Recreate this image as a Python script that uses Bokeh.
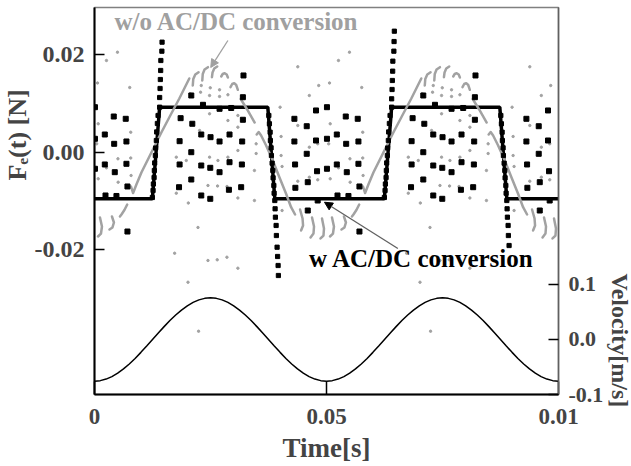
import numpy as np
from bokeh.plotting import figure
from bokeh.models import (Range1d, LinearAxis, FixedTicker, PrintfTickFormatter,
                          Label, Arrow, NormalHead, Title)
from bokeh.embed import file_html
from bokeh.resources import INLINE

FONT = "Liberation Serif"
GRAY = "#a2a2a2"

# ---------------- data ----------------
# velocity (right axis), sampled every 0.00125 s
vel_t = np.linspace(0, 0.1, 81)
vel_v = [-0.0757, -0.0748, -0.0720, -0.0674, -0.0612, -0.0535, -0.0445, -0.0344, -0.0234, -0.0118,
         0.0, 0.0118, 0.0234, 0.0344, 0.0445, 0.0535, 0.0612, 0.0674, 0.0720, 0.0748,
         0.0757, 0.0748, 0.0720, 0.0674, 0.0612, 0.0535, 0.0445, 0.0344, 0.0234, 0.0118,
         0.0, -0.0118, -0.0234, -0.0344, -0.0445, -0.0535, -0.0612, -0.0674, -0.0720, -0.0748,
         -0.0757, -0.0748, -0.0720, -0.0674, -0.0612, -0.0535, -0.0445, -0.0344, -0.0234, -0.0118,
         0.0, 0.0118, 0.0234, 0.0344, 0.0445, 0.0535, 0.0612, 0.0674, 0.0720, 0.0748,
         0.0757, 0.0748, 0.0720, 0.0674, 0.0612, 0.0535, 0.0445, 0.0344, 0.0234, 0.0118,
         0.0, -0.0118, -0.0234, -0.0344, -0.0445, -0.0535, -0.0612, -0.0674, -0.0720, -0.0748,
         -0.0757]

# w AC/DC conversion : rectified force (square wave)
step_t = [0, 0.01247, 0.01404, 0.03735, 0.03886, 0.06247, 0.06404, 0.08735, 0.08886, 0.1]
step_f = [-0.0095, -0.0095, 0.0093, 0.0093, -0.0095, -0.0095, 0.0093, 0.0093, -0.0095, -0.0095]

# transition samples (dotted columns)
spike_t = [0.01456, 0.01452, 0.01430, 0.01426, 0.01419, 0.01413, 0.01404, 0.01404, 0.01370, 0.01355,
           0.01340, 0.01333, 0.01318, 0.01312, 0.01297, 0.01290, 0.01284, 0.01269, 0.01262, 0.01247,
           0.03757, 0.03770, 0.03785, 0.03791, 0.03806, 0.03813, 0.03828, 0.03843, 0.03849, 0.03865,
           0.03871, 0.03886, 0.03892, 0.03899, 0.03914, 0.03920, 0.03935, 0.03946, 0.03957, 0.03963,
           0.06462, 0.06456, 0.06452, 0.06430, 0.06426, 0.06419, 0.06413, 0.06404, 0.06404, 0.06370,
           0.06355, 0.06340, 0.06333, 0.06318, 0.06312, 0.06297, 0.06290, 0.06284, 0.06269, 0.06262,
           0.06247,
           0.08757, 0.08770, 0.08785, 0.08791, 0.08806, 0.08813, 0.08828, 0.08843, 0.08849, 0.08865,
           0.08871, 0.08886, 0.08892, 0.08899, 0.08914, 0.08920, 0.08935]
spike_f = [0.02263, 0.02078, 0.01887, 0.01682, 0.01497, 0.01313, 0.01128, 0.00929, 0.00759, 0.00595,
           0.00421, 0.00246, 0.00092, -0.00062, -0.00215, -0.00369, -0.00513, -0.00646, -0.00779, -0.00923,
           0.00759, 0.00589, 0.00416, 0.00246, 0.00096, -0.00062, -0.00219, -0.00369, -0.00519, -0.00677,
           -0.00835, -0.00985, -0.01155, -0.01327, -0.01497, -0.01703, -0.01943, -0.02133, -0.02318, -0.02523,
           0.02488, 0.02276, 0.02078, 0.01873, 0.01668, 0.01477, 0.01292, 0.01101, 0.00929, 0.00759,
           0.00595, 0.00421, 0.00246, 0.00092, -0.00062, -0.00215, -0.00369, -0.00513, -0.00646, -0.00779,
           -0.00923,
           0.00759, 0.00589, 0.00416, 0.00246, 0.00096, -0.00062, -0.00219, -0.00369, -0.00519, -0.00677,
           -0.00835, -0.00985, -0.01155, -0.01327, -0.01497, -0.01703, -0.01908]

# scattered samples (black squares)
black_t = [0.0001, 0.0001, 0.0001, 0.00222, 0.00222, 0.00415, 0.00424, 0.00437, 0.00673, 0.00688,
           0.00688, 0.00710, 0.00710, 0.01822, 0.01834, 0.01834, 0.01856, 0.02086, 0.02108, 0.02086,
           0.02086, 0.02301, 0.02301, 0.02301, 0.02501, 0.02495, 0.02495, 0.02695, 0.02695, 0.02910,
           0.02910, 0.02897, 0.03183, 0.03176, 0.03161, 0.03198, 0.03198, 0.03211, 0.04308, 0.04308,
           0.04323, 0.04329, 0.04574, 0.04574, 0.04596, 0.04596, 0.04774, 0.04774, 0.04796,
           0.00237, 0.00473, 0.02338, 0.02695, 0.02946, 0.04810,
           0.0501, 0.0501, 0.0501, 0.05222, 0.05222, 0.05415, 0.05424, 0.05437, 0.05673, 0.05688,
           0.05688, 0.05710, 0.05710, 0.06822, 0.06834, 0.06834, 0.06856, 0.07086, 0.07108, 0.07086,
           0.07086, 0.07301, 0.07301, 0.07301, 0.07501, 0.07495, 0.07495, 0.07695, 0.07695, 0.07910,
           0.07910, 0.07897, 0.08183, 0.08176, 0.08161, 0.08198, 0.08198, 0.08211, 0.09308, 0.09308,
           0.09323, 0.09329, 0.09574, 0.09574, 0.09596, 0.09596, 0.09774, 0.09774, 0.09796,
           0.05237, 0.05473, 0.07338, 0.07695, 0.07946, 0.09810]
black_f = [0.00929, 0.00281, -0.00334, 0.00369, -0.00246, 0.00738, 0.00178, -0.00404, 0.00691, 0.00226,
           -0.00232, -0.00697, -0.01621, -0.00712, -0.00246, 0.00232, 0.00704, 0.01169, 0.00589, 0.00006,
           -0.00554, 0.00369, -0.00267, -0.00882, 0.00314, -0.00314, -0.00950, 0.00226, -0.00404, 0.00369,
           -0.00199, -0.00765, 0.00226, -0.00246, -0.00712, 0.00671, 0.01134, 0.01580, 0.00691, 0.00226,
           -0.00246, -0.00724, 0.00539, -0.00027, -0.00609, -0.01190, 0.00862, 0.00246, -0.00384,
           -0.00882, -0.00892, 0.00978, 0.00896, 0.00913, -0.00985,
           0.00929, 0.00281, -0.00334, 0.00369, -0.00246, 0.00738, 0.00178, -0.00404, 0.00691, 0.00226,
           -0.00232, -0.00697, -0.01621, -0.00712, -0.00246, 0.00232, 0.00704, 0.01169, 0.00589, 0.00006,
           -0.00554, 0.00369, -0.00267, -0.00882, 0.00314, -0.00314, -0.00950, 0.00226, -0.00404, 0.00369,
           -0.00199, -0.00765, 0.00226, -0.00246, -0.00712, 0.00671, 0.01134, 0.01580, 0.00691, 0.00226,
           -0.00246, -0.00724, 0.00539, -0.00027, -0.00609, -0.01190, 0.00862, 0.00246, -0.00384,
           -0.00882, -0.00892, 0.00978, 0.00896, 0.00913, -0.00985]

# w/o AC/DC conversion : scattered samples (gray dots)
gray_t = [0.00495, 0.00258, 0.00065, 0.00759, 0.00080, 0.00781, 0.00505, 0.00781, 0.00258, 0.00080,
          0.00510, 0.00789, 0.02065, 0.02286, 0.02480, 0.02695, 0.02875, 0.02301, 0.02495, 0.02695,
          0.02480, 0.02875, 0.03090, 0.02265, 0.03090, 0.03090, 0.01978, 0.02480, 0.02660, 0.02875,
          0.01763, 0.01763, 0.02022, 0.02445, 0.02652, 0.02856, 0.03090, 0.03447, 0.02230, 0.03447,
          0.03484, 0.03484, 0.04000, 0.04022, 0.04022, 0.04043, 0.04043, 0.04381, 0.04381, 0.04630,
          0.04630, 0.04811, 0.04811, 0.04381, 0.04630, 0.04832, 0.01727, 0.02015, 0.02445, 0.02645,
          0.02854, 0.03090, 0.02243, 0.00047,
          0.05495, 0.05258, 0.05065, 0.05759, 0.05080, 0.05781, 0.05505, 0.05781, 0.05258, 0.05080,
          0.05510, 0.05789, 0.07065, 0.07286, 0.07480, 0.07695, 0.07875, 0.07301, 0.07495, 0.07695,
          0.07480, 0.07875, 0.08090, 0.07265, 0.08090, 0.08090, 0.06978, 0.07480, 0.07660, 0.07875,
          0.06763, 0.06763, 0.07022, 0.07445, 0.07652, 0.07856, 0.08090, 0.08447, 0.07230, 0.08447,
          0.08484, 0.08484, 0.09000, 0.09022, 0.09022, 0.09043, 0.09043, 0.09381, 0.09381, 0.09630,
          0.09630, 0.09811, 0.09811, 0.09381, 0.09630, 0.09832, 0.06727, 0.07015, 0.07445, 0.07645,
          0.07854, 0.08090, 0.07243, 0.05047]
gray_f = [0.02057, 0.01887, 0.01426, 0.01333, 0.00589, 0.00416, -0.00129, -0.00113, -0.00314, -0.00539,
          -0.00609, -0.00472, 0.01204, 0.01237, 0.01169, 0.01149, 0.01184, 0.01374, 0.01327, 0.01286,
          0.00794, 0.00656, 0.00759, 0.00451, 0.00519, 0.00041, -0.00164, -0.00096, -0.00164, -0.00096,
          -0.00096, -0.00835, -0.01036, -0.00677, -0.00687, -0.00697, -0.00933, -0.00985, -0.01538, -0.00369,
          -0.00021, 0.00178, 0.00929, 0.00328, -0.00062, -0.00287, -0.01190, 0.00554, -0.00589, 0.00109,
          -0.00507, 0.00178, -0.00560, 0.01758, 0.01169, 0.01374, -0.02066, -0.02661, -0.02215, -0.02201,
          -0.02148, -0.02373, -0.03666, 0.00178,
          0.02057, 0.01887, 0.01426, 0.01333, 0.00589, 0.00416, -0.00129, -0.00113, -0.00314, -0.00539,
          -0.00609, -0.00472, 0.01204, 0.01237, 0.01169, 0.01149, 0.01184, 0.01374, 0.01327, 0.01286,
          0.00794, 0.00656, 0.00759, 0.00451, 0.00519, 0.00041, -0.00164, -0.00096, -0.00164, -0.00096,
          -0.00096, -0.00835, -0.01036, -0.00677, -0.00687, -0.00697, -0.00933, -0.00985, -0.01538, -0.00369,
          -0.00021, 0.00178, 0.00929, 0.00328, -0.00062, -0.00287, -0.01190, 0.00554, -0.00589, 0.00109,
          -0.00507, 0.00178, -0.00560, 0.01758, 0.01169, 0.01374, -0.02066, -0.02661, -0.02215, -0.02201,
          -0.02148, -0.02373, -0.03666, 0.00178]

# w/o AC/DC conversion : connected traces (gray curve pieces)
curve_t = [
    [0.00785, 0.00832, 0.00903, 0.01011, 0.01226, 0.01441, 0.01656, 0.01828, 0.01957, 0.02043],
    [0.02243, 0.02172, 0.02129, 0.02118], [0.02445, 0.02372, 0.02333, 0.02323],
    [0.02645, 0.02581, 0.02544, 0.02531], [0.02731, 0.02763, 0.02806, 0.02849, 0.02875],
    [0.02931, 0.02968, 0.03011, 0.03054, 0.03090], [0.03151, 0.03290, 0.03452],
    [0.03495, 0.03538, 0.03591, 0.03699, 0.03843, 0.03985, 0.04129, 0.04237, 0.04323],
    [0.04430, 0.04484, 0.04495, 0.04452], [0.04688, 0.04731, 0.04720, 0.04656],
    [0.04903, 0.04946, 0.04935, 0.04871], [0.00118, 0.00161, 0.00140, 0.00075],
    [0.00376, 0.00419, 0.00387, 0.00323], [0.00705, 0.00645, 0.00581, 0.00548],
    [0.05785, 0.05832, 0.05903, 0.06011, 0.06226, 0.06441, 0.06656, 0.06828, 0.06957, 0.07043],
    [0.07243, 0.07172, 0.07129, 0.07118], [0.07445, 0.07372, 0.07333, 0.07323],
    [0.07645, 0.07581, 0.07544, 0.07531], [0.07731, 0.07763, 0.07806, 0.07849, 0.07875],
    [0.07931, 0.07968, 0.08011, 0.08054, 0.08090], [0.08151, 0.08290, 0.08452],
    [0.08495, 0.08538, 0.08591, 0.08699, 0.08843, 0.08985, 0.09129, 0.09237, 0.09323],
    [0.09430, 0.09484, 0.09495, 0.09452], [0.09688, 0.09731, 0.09720, 0.09656],
    [0.09903, 0.09946, 0.09935, 0.09871], [0.05118, 0.05161, 0.05140, 0.05075],
    [0.05376, 0.05419, 0.05387, 0.05323], [0.05705, 0.05645, 0.05581, 0.05548],
]
_cf = [
    [-0.00697, -0.00831, -0.00656, -0.00410, 0.0, 0.00410, 0.00800, 0.01108, 0.01354, 0.01518],
    [0.01647, 0.01600, 0.01508, 0.01374], [0.01750, 0.01703, 0.01610, 0.01477],
    [0.01764, 0.01723, 0.01641, 0.01545], [0.01559, 0.01610, 0.01627, 0.01600, 0.01538],
    [0.01339, 0.01405, 0.01422, 0.01385, 0.01286], [0.01097, 0.00882, 0.00615],
    [0.00369, 0.00421, 0.00349, 0.00144, -0.00164, -0.00507, -0.00847, -0.01122, -0.01272],
    [-0.01169, -0.01354, -0.01497, -0.01600], [-0.01333, -0.01518, -0.01662, -0.01744],
    [-0.01354, -0.01559, -0.01703, -0.01764], [-0.01333, -0.01518, -0.01662, -0.01723],
    [-0.01313, -0.01436, -0.01538, -0.01579], [-0.01067, -0.01180, -0.01272, -0.01313],
]
curve_f = _cf + _cf

# axis ticks
x_ticks = [0, 0.05, 0.1]
x_tick_labels = {0: "0", 0.05: "0.05", 0.1: "0.01"}
f_ticks = [-0.02, 0.0, 0.02]
v_ticks = [-0.1, 0.0, 0.1]

# ---------------- figure ----------------
p = figure(width=631, height=466, x_range=Range1d(0, 0.1), y_range=Range1d(-0.04964, 0.02974),
           output_backend="svg", toolbar_location=None, x_axis_type=None, y_axis_type=None,
           min_border_left=93, min_border_right=73, min_border_top=7, min_border_bottom=72)
p.extra_y_ranges = {"vel": Range1d(-0.1, 0.6036)}
p.outline_line_color = "#808080"
p.outline_line_width = 1.5
p.background_fill_color = "white"
p.border_fill_color = "white"


def style_axis(ax, size, standoff):
    ax.axis_line_color = "black"
    ax.axis_line_width = 2
    ax.major_tick_in = 10
    ax.major_tick_out = 0
    ax.major_tick_line_width = 1.5
    ax.minor_tick_line_color = None
    ax.major_label_text_font = FONT
    ax.major_label_text_font_style = "bold"
    ax.major_label_text_font_size = size
    ax.major_label_standoff = standoff


xaxis = LinearAxis(ticker=FixedTicker(ticks=x_ticks), major_label_overrides=x_tick_labels,
                   axis_label="Time[s]")
style_axis(xaxis, "23px", 14)
xaxis.major_tick_in = 13
xaxis.axis_label_text_font = FONT
xaxis.axis_label_text_font_style = "bold"
xaxis.axis_label_text_font_size = "27px"
xaxis.axis_label_standoff = 6
p.add_layout(xaxis, "below")

yaxis = LinearAxis(ticker=FixedTicker(ticks=f_ticks), formatter=PrintfTickFormatter(format="%.2f"))
style_axis(yaxis, "24px", 10)
p.add_layout(yaxis, "left")

vaxis = LinearAxis(y_range_name="vel", ticker=FixedTicker(ticks=v_ticks),
                   formatter=PrintfTickFormatter(format="%.1f"))
style_axis(vaxis, "22px", 10)
vaxis.axis_line_width = 1.5
vaxis.axis_line_color = "#606060"
p.add_layout(vaxis, "right")

# side titles (positioned along the frame edge with offset)
p.add_layout(Title(text="F\u2091(t) [N]", align="left", offset=214, standoff=0,
                   text_font=FONT, text_font_style="bold", text_font_size="26px"), "left")
vel_title = Title(text="Velocity[m/s]", align="left", vertical_align="top", offset=266,
                  standoff=0, text_font=FONT, text_font_style="bold", text_font_size="24px")
try:
    vel_title.standoff = -4
except Exception:
    vel_title.standoff = 0
p.add_layout(vel_title, "right")

# gray (w/o AC/DC) traces
p.scatter(gray_t, gray_f, marker="circle", size=2.4, color=GRAY)
# black rectified trace
p.line(step_t, step_f, line_color="black", line_width=3.5)
p.multi_line(curve_t, curve_f, line_color=GRAY, line_width=2.5, line_cap="round", line_join="round")
p.scatter(spike_t, spike_f, marker="square", size=4.2, color="black")
p.scatter(black_t, black_f, marker="square", size=5, color="black")

# velocity
p.line(vel_t, vel_v, y_range_name="vel", line_color="black", line_width=1.5)

# annotations
p.add_layout(Label(x=0.0043, y=0.0240, text="w/o AC/DC conversion", text_font=FONT,
                   text_font_style="bold", text_font_size="25px", text_color="#a0a0a0"))
p.add_layout(Arrow(end=NormalHead(size=8, fill_color="#a0a0a0", line_color="#a0a0a0"),
                   x_start=0.02875, y_start=0.02297, x_end=0.02505, y_end=0.01744,
                   line_color="#a0a0a0", line_width=1.3))
p.add_layout(Label(x=0.04624, y=-0.0246, text="w AC/DC conversion", text_font=FONT,
                   text_font_style="bold", text_font_size="25px", text_color="black"))
p.add_layout(Arrow(end=NormalHead(size=8, fill_color="black", line_color="black"),
                   x_start=0.06538, y_start=-0.01969, x_end=0.04957, y_end=-0.0102,
                   line_color="#606060", line_width=1.3))

open("out.html", "w").write(file_html(p, INLINE))
